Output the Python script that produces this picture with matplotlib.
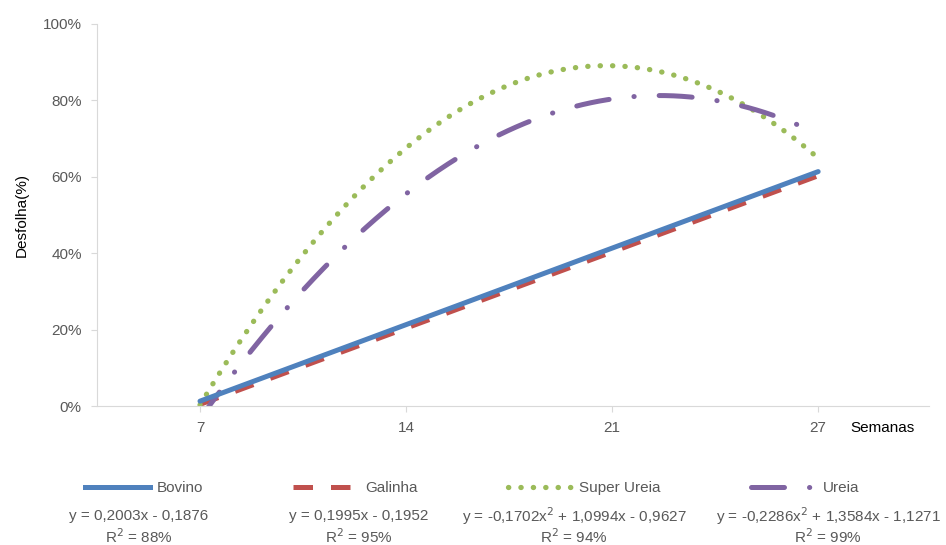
import matplotlib.pyplot as plt
import numpy as np
from matplotlib.lines import Line2D

plt.rcParams['font.family'] = ['Liberation Sans', 'DejaVu Sans']

# weeks shown on the category axis (trendlines use x = 1..4)
semanas = [7, 14, 21, 27]
series = ['Bovino', 'Galinha', 'Super Ureia', 'Ureia']

# trendline coefficients as printed on the chart (highest power first)
coef_bovino = [0.2003, -0.1876]
coef_galinha = [0.1995, -0.1952]
coef_super = [-0.1702, 1.0994, -0.9627]
coef_ureia = [-0.2286, 1.3584, -1.1271]
r2 = [88, 95, 94, 99]

eq_text = ['y = 0,2003x - 0,1876', 'y = 0,1995x - 0,1952',
           'y = -0,1702x$^2$ + 1,0994x - 0,9627', 'y = -0,2286x$^2$ + 1,3584x - 1,1271']

fig = plt.figure(figsize=(9.46, 5.45), dpi=100)
ax = fig.add_axes([0.1025, 0.255, 0.88, 0.701])

lw = 3.6
red_ls = (0, (3.9, 3.6))
green_ls = (0, (0.05, 2.3))
purple_ls = (0, (6.6, 5.0, 0.05, 5.0))

xs = np.linspace(1, 4, 300)
ax.plot(xs, np.polyval(coef_bovino, xs), color='#4F81BD', lw=lw, solid_capstyle='round', zorder=3)
ax.plot(xs, np.polyval(coef_galinha, xs), color='#C0504D', lw=lw, ls=red_ls,
        dash_capstyle='butt', zorder=2)
# the green dotted curve follows the -0,2286 equation, the purple one the -0,1702 equation
ax.plot(xs, np.polyval(coef_ureia, xs), color='#9BBB59', lw=lw + 0.2, ls=green_ls,
        dash_capstyle='round', zorder=2)
ax.plot(xs, np.polyval(coef_super, xs), color='#8064A2', lw=lw, ls=purple_ls,
        dash_capstyle='round', zorder=2)

ax.set_xlim(0.5, 4.54)
ax.set_ylim(0, 1)
ax.set_xticks(range(1, 5))
ax.set_xticklabels(semanas)
ax.set_yticks(np.arange(0, 1.01, 0.2))
ax.set_yticklabels([f'{int(round(v * 100))}%' for v in np.arange(0, 1.01, 0.2)])
for s in ['top', 'right']:
    ax.spines[s].set_visible(False)
for s in ['left', 'bottom']:
    ax.spines[s].set_color('#D9D9D9')
ax.tick_params(axis='both', colors='#D9D9D9', labelcolor='#595959', labelsize=11, length=4)
ax.tick_params(axis='x', pad=7)
ax.tick_params(axis='y', pad=7)
ax.set_ylabel('Desfolha(%)', fontsize=11, labelpad=10)
ax.text(0.982, -0.057, 'Semanas', transform=ax.transAxes, ha='right', va='center', fontsize=11)

handles = [
    Line2D([], [], color='#4F81BD', lw=lw),
    Line2D([], [], color='#C0504D', lw=lw, ls=red_ls),
    Line2D([], [], color='#9BBB59', lw=lw + 0.2, ls=green_ls, dash_capstyle='round'),
    Line2D([], [], color='#8064A2', lw=lw, ls=purple_ls, dash_capstyle='round'),
]
fig.legend(handles, series, loc='center', bbox_to_anchor=(0.499, 0.104), ncol=4,
           frameon=False, fontsize=11, handlelength=4.3, columnspacing=5.9, handletextpad=0.4,
           labelcolor='#595959')

eq_x = [139, 359, 574, 828]
for x, eq, r in zip(eq_x, eq_text, r2):
    fig.text(x / 946, 1 - 516 / 545, eq, ha='center', va='center', fontsize=11, color='#595959')
    fig.text(x / 946, 1 - 537 / 545, f'R$^2$ = {r}%', ha='center', va='center', fontsize=11,
             color='#595959')

fig.savefig('out.png', dpi=100)
